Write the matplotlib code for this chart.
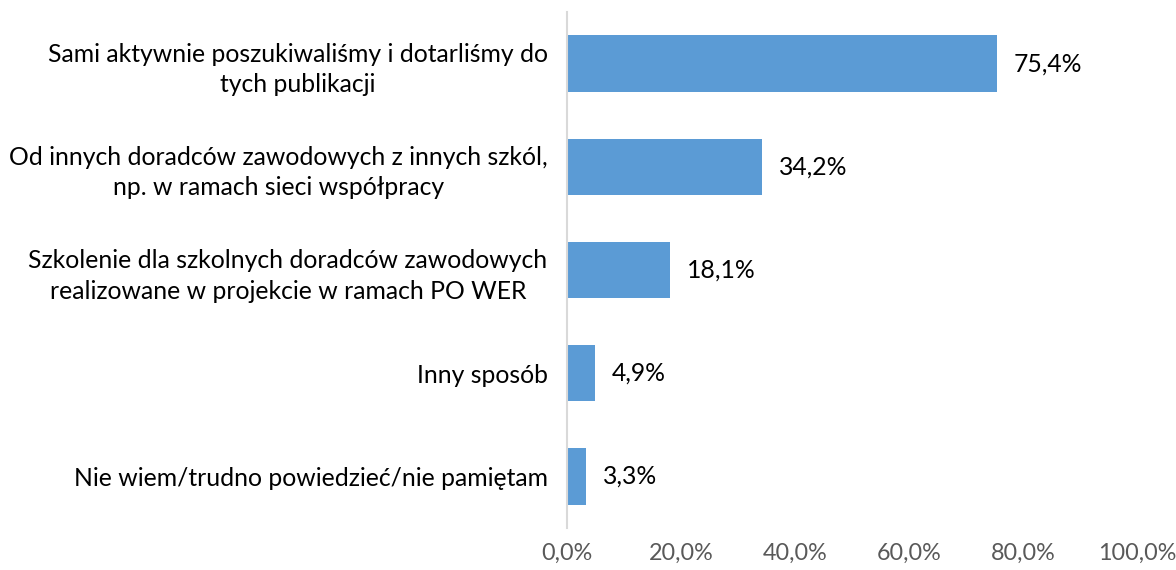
import matplotlib
matplotlib.use("Agg")
import matplotlib.pyplot as plt

categories = [
    "Sami aktywnie poszukiwaliśmy i dotarliśmy do\ntych publikacji",
    "Od innych doradców zawodowych z innych szkól,\nnp. w ramach sieci współpracy",
    "Szkolenie dla szkolnych doradców zawodowych\nrealizowane w projekcie w ramach PO WER",
    "Inny sposób",
    "Nie wiem/trudno powiedzieć/nie pamiętam",
]
values = [75.4, 34.2, 18.1, 4.9, 3.3]
xticks = [0, 20, 40, 60, 80, 100]

plt.rcParams['font.family'] = ['Lato', 'DejaVu Sans']
FS = 17.8

fig = plt.figure(figsize=(11.76, 5.70), dpi=100)
ax = fig.add_axes([567/1176, 1 - 528/570, (1137 - 567)/1176, (528 - 12)/570])

y = list(range(len(categories)))
ax.barh(y, values, height=0.545, color='#5B9BD5')
ax.set_ylim(len(categories) - 0.5, -0.5)
ax.set_xlim(0, 100)

for yi, v in zip(y, values):
    ax.text(v + 3.0, yi, f"{v:.1f}".replace('.', ',') + "%", va='center', ha='left',
            fontsize=FS, color='#000000')

ax.set_yticks(y)
ax.set_yticklabels(categories, fontsize=FS, color='#000000', multialignment='center',
                   linespacing=1.4)
ax.set_xticks(xticks)
ax.set_xticklabels([f"{t:.1f}".replace('.', ',') + "%" for t in xticks], fontsize=16.8,
                   color='#595959')
ax.tick_params(axis='y', length=0, pad=14)
ax.tick_params(axis='x', length=0, pad=11)

for s in ['top', 'right', 'bottom']:
    ax.spines[s].set_visible(False)
ax.spines['left'].set_color('#D9D9D9')
ax.spines['left'].set_linewidth(1.5)

fig.savefig('out.png', dpi=100)
